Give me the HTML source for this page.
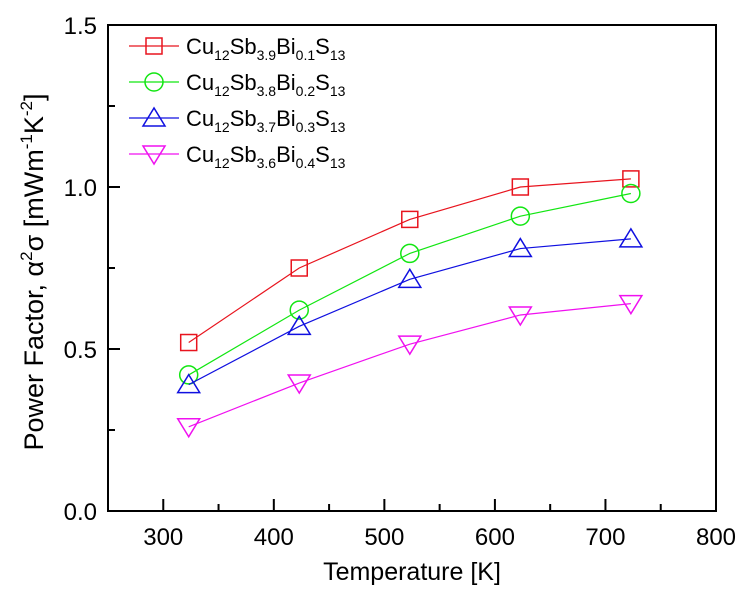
<!DOCTYPE html>
<html><head><meta charset="utf-8"><style>
body{margin:0;background:#fff}
svg text{font-family:"Liberation Sans",Arial,sans-serif}
</style></head><body>
<svg id="c" width="750" height="592" viewBox="0 0 750 592"></svg>
<script>
const temps=[323,423,523,623,723];
const s1=[0.52,0.75,0.90,1.00,1.025];
const s2=[0.42,0.62,0.795,0.91,0.98];
const s3=[0.39,0.57,0.715,0.81,0.84];
const s4=[0.26,0.395,0.515,0.605,0.64];
const xTicks=[300,400,500,600,700,800];
const yTicks=[0.0,0.5,1.0,1.5];
const legendSubs=[["3.9","0.1"],["3.8","0.2"],["3.7","0.3"],["3.6","0.4"]];
const L=108,R=716,T=25,B=511;
const X=v=>L+(v-250)/(800-250)*(R-L);
const Y=v=>B-(v/1.5)*(B-T);
const svg=document.getElementById('c');
const NS='http://www.w3.org/2000/svg';
function mk(t,a,p){const e=document.createElementNS(NS,t);for(const k in a)e.setAttribute(k,a[k]);(p||svg).appendChild(e);return e;}
const fr=mk('rect',{x:L,y:T,width:R-L,height:B-T,fill:'none',stroke:'#000','stroke-width':2});


xTicks.forEach(v=>{
 const l=mk('line',{x1:X(v),x2:X(v),y1:B,y2:B-12,stroke:'#000','stroke-width':2});
 
 
 const t=mk('text',{x:X(v),y:B+34,'font-size':24,'text-anchor':'middle'});t.textContent=v;
 
 
});
for(let v=350;v<800;v+=100){const l=mk('line',{x1:X(v),x2:X(v),y1:B,y2:B-7,stroke:'#000','stroke-width':2});
 
 }
yTicks.forEach(v=>{
 const l=mk('line',{x1:L,x2:L+12,y1:Y(v),y2:Y(v),stroke:'#000','stroke-width':2});
 
 
 const t=mk('text',{x:L-11,y:Y(v)+9,'font-size':24,'text-anchor':'end'});t.textContent=v.toFixed(1);
 
 
});
for(let v=0.25;v<1.5;v+=0.5){const l=mk('line',{x1:L,x2:L+7,y1:Y(v),y2:Y(v),stroke:'#000','stroke-width':2});
 
 }
const xt=mk('text',{x:(L+R)/2,y:580,'font-size':25,'text-anchor':'middle'});xt.textContent='Temperature [K]';


const yt=mk('text',{transform:'translate(43,272) rotate(-90)','font-size':27,'text-anchor':'middle'});
yt.innerHTML='Power Factor, α<tspan dy="-11" font-size="17">2</tspan><tspan dy="11">σ [mWm</tspan><tspan dy="-11" font-size="17">-1</tspan><tspan dy="11">K</tspan><tspan dy="-11" font-size="17">-2</tspan><tspan dy="11">]</tspan>';


function marker(kind,x,y,col,g){
 const a={fill:'none',stroke:col,'stroke-width':1.5};
 let e;
 if(kind==0)e=mk('rect',Object.assign({x:x-8,y:y-8,width:16,height:16},a),g);
 else if(kind==1)e=mk('circle',Object.assign({cx:x,cy:y,r:9},a),g);
 else if(kind==2)e=mk('polygon',Object.assign({points:`${x},${y-10} ${x-11},${y+8} ${x+11},${y+8}`},a),g);
 else e=mk('polygon',Object.assign({points:`${x},${y+10} ${x-11},${y-8} ${x+11},${y-8}`},a),g);
 
 
}
const series=[s1,s2,s3,s4],cols=['#e8141e','#12e612','#1010e0','#f010f0'];
series.forEach((s,i)=>{
 const g=mk('g',{});
 
 
 const p=mk('polyline',{points:s.map((v,j)=>X(temps[j])+','+Y(v)).join(' '),fill:'none',stroke:cols[i],'stroke-width':1.2},g);
 
 
 s.forEach((v,j)=>marker(i,X(temps[j]),Y(v),cols[i],g));
 const ly=[46,82,118,154][i];
 const lg=mk('g',{});
 
 
 mk('line',{x1:129,x2:179,y1:ly,y2:ly,stroke:cols[i],'stroke-width':1.2},lg);
 marker(i,154,ly,cols[i],lg);
 const t=mk('text',{x:186,y:ly+8,'font-size':22},lg);
 t.innerHTML=`Cu<tspan dy="6" font-size="14">12</tspan><tspan dy="-6">Sb</tspan><tspan dy="6" font-size="14">${legendSubs[i][0]}</tspan><tspan dy="-6">Bi</tspan><tspan dy="6" font-size="14">${legendSubs[i][1]}</tspan><tspan dy="-6">S</tspan><tspan dy="6" font-size="14">13</tspan>`;
});
</script>
</body></html>
